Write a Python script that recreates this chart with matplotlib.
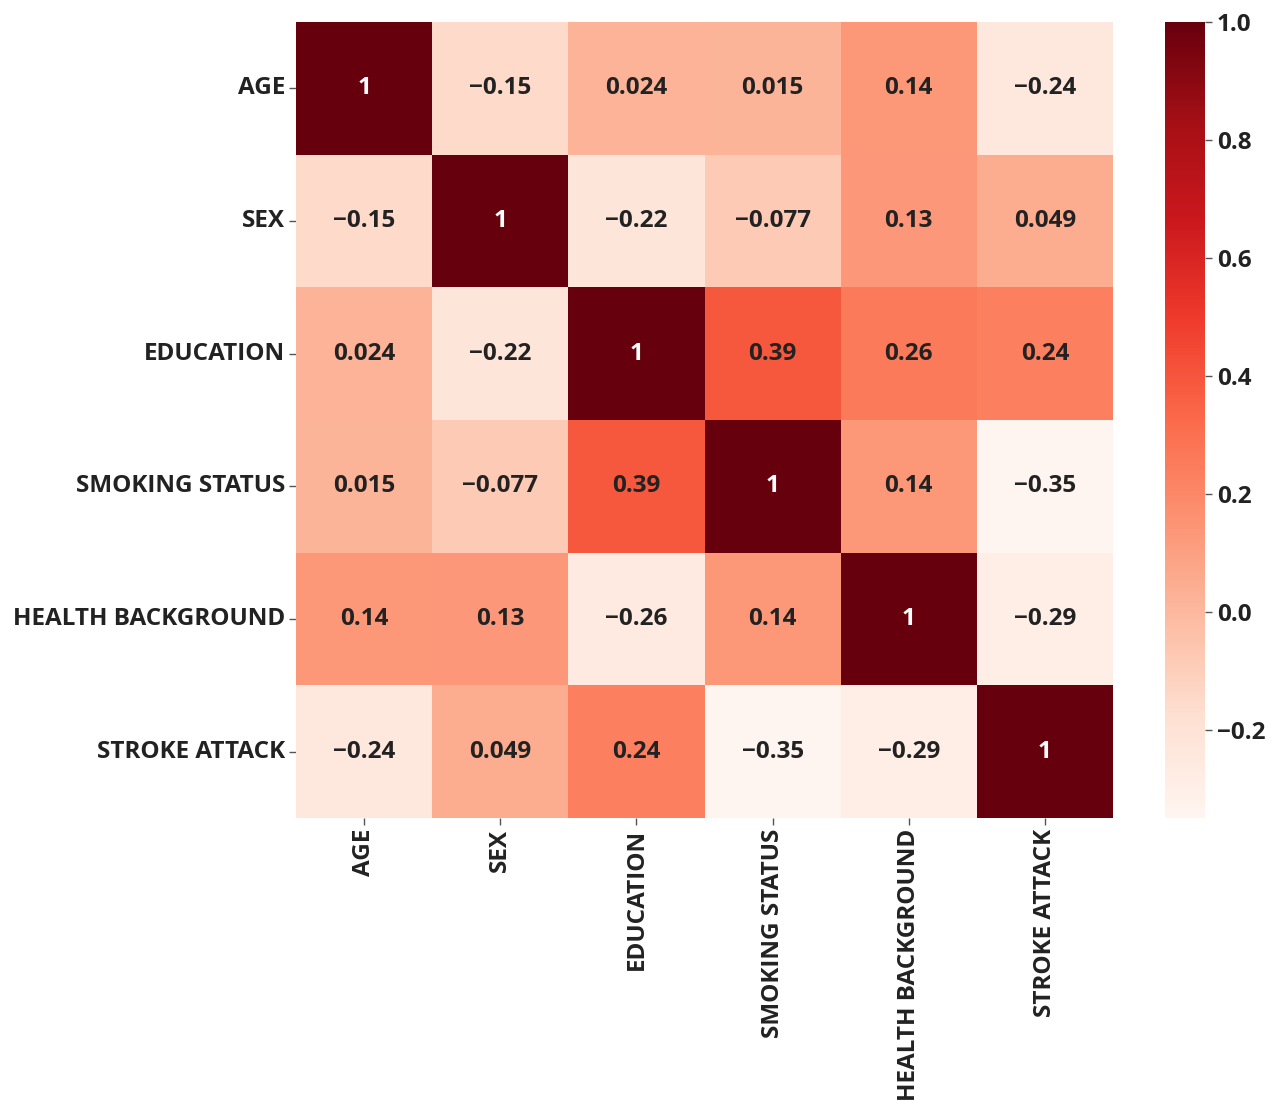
import numpy as np
import matplotlib
matplotlib.use("Agg")
import matplotlib.pyplot as plt
import seaborn as sns

labels = ["AGE", "SEX", "EDUCATION", "SMOKING STATUS", "HEALTH BACKGROUND", "STROKE ATTACK"]

row_age = [1, -0.15, 0.024, 0.015, 0.14, -0.24]
row_sex = [-0.15, 1, -0.22, -0.077, 0.13, 0.049]
row_education = [0.024, -0.22, 1, 0.39, 0.26, 0.24]
row_smoking = [0.015, -0.077, 0.39, 1, 0.14, -0.35]
row_health = [0.14, 0.13, -0.26, 0.14, 1, -0.29]
row_stroke = [-0.24, 0.049, 0.24, -0.35, -0.29, 1]

corr = np.array([row_age, row_sex, row_education, row_smoking, row_health, row_stroke])

sns.set_theme(style="white")
plt.rcParams["font.family"] = ["Open Sans", "DejaVu Sans"]
plt.rcParams["font.weight"] = "bold"
plt.rcParams["axes.unicode_minus"] = True

# cell annotations with a typographic minus sign
annot_text = np.array([[f"{v:.2g}".replace("-", "\u2212") for v in row] for row in corr])

fig = plt.figure(figsize=(12.8, 11.04), dpi=100)
ax = fig.add_axes([296 / 1280, 1 - 818 / 1104, (1113 - 296) / 1280, (818 - 22) / 1104])
cax = fig.add_axes([1165 / 1280, 1 - 818 / 1104, 40 / 1280, (818 - 22) / 1104])

sns.heatmap(corr, annot=annot_text, fmt="", cmap="Reds", ax=ax, cbar_ax=cax,
            xticklabels=labels, yticklabels=labels,
            annot_kws={"fontsize": 17.5, "fontweight": "bold"})

# white text only on the darkest cells
for txt, v in zip(ax.texts, corr.ravel()):
    txt.set_color("white" if v > 0.8 else "#222222")

ax.tick_params(axis="both", which="major", length=5, width=1, color="#555555",
               labelsize=17.5, labelcolor="#222222", pad=3, bottom=True, left=True)
for t in ax.get_xticklabels():
    t.set_rotation(90)
    t.set_fontweight("bold")
for t in ax.get_yticklabels():
    t.set_rotation(0)
    t.set_fontweight("bold")

cax.tick_params(length=5, width=1, color="#555555", labelsize=17.5, labelcolor="#222222", right=True)
for t in cax.get_yticklabels():
    t.set_fontweight("bold")

fig.savefig("out.png", dpi=100)
